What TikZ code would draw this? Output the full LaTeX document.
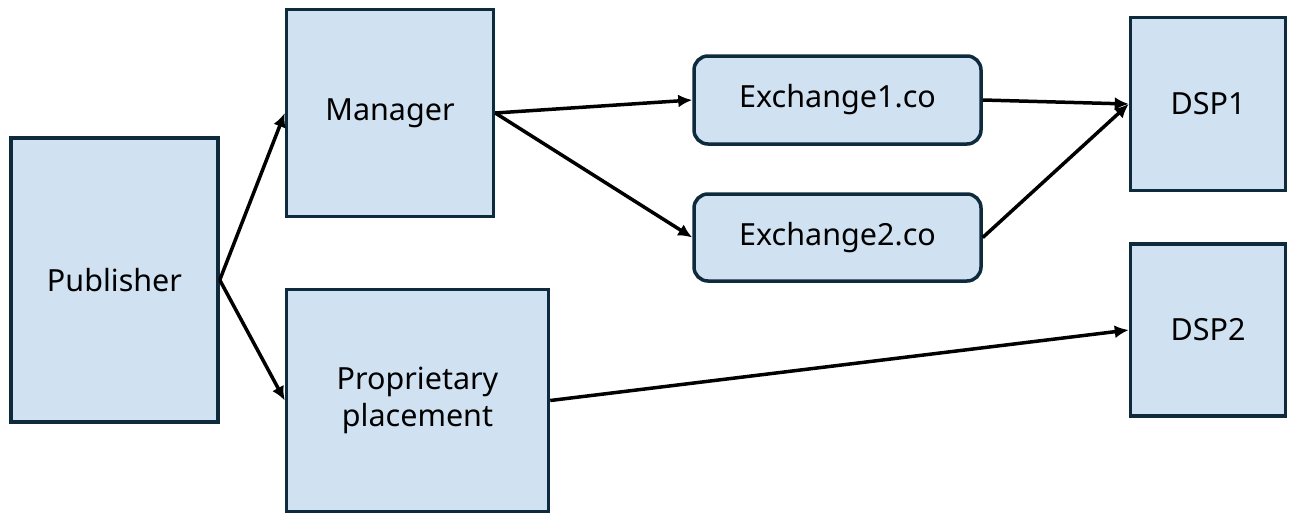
\documentclass[tikz,border=0pt]{standalone}
\usepackage{fontspec}
\setmainfont{Noto Sans}
\usetikzlibrary{arrows.meta}
\definecolor{boxfill}{HTML}{D0E1F1}
\definecolor{boxline}{HTML}{0E2A3D}
\tikzset{
  box/.style={draw=boxline, fill=boxfill, line width=3.5pt, inner sep=0pt,
    align=center, font=\fontsize{30.5}{37}\selectfont, text=black},
  rbox/.style={box, rounded corners=14pt},
  conn/.style={line width=3.5pt, draw=black, -{Latex[length=14pt,width=13pt]}}
}
\begin{document}
\begin{tikzpicture}[x=1pt, y=-1pt]
\useasboundingbox (0,0) rectangle (1289,514);
\node[box, minimum width=207pt, minimum height=284pt] (pub) at (114.5,280) {Publisher};
\node[box, minimum width=207pt, minimum height=207pt] (man) at (390,113) {Manager};
\node[box, minimum width=262pt, minimum height=222pt] (prop) at (417.5,400.5) {Proprietary\\placement};
\node[rbox, minimum width=287pt, minimum height=88pt] (ex1) at (837.5,100) {Exchange1.co};
\node[rbox, minimum width=287pt, minimum height=87pt] (ex2) at (837.5,237.5) {Exchange2.co};
\node[box, minimum width=155pt, minimum height=173pt] (dsp1) at (1208,104) {DSP1};
\node[box, minimum width=155pt, minimum height=172pt] (dsp2) at (1208,330) {DSP2};
\draw[conn] (pub.east) -- (man.west);
\draw[conn] (pub.east) -- (prop.west);
\draw[conn] (man.east) -- (ex1.west);
\draw[conn] (man.east) -- (ex2.west);
\draw[conn] (ex1.east) -- (dsp1.west);
\draw[conn] (ex2.east) -- (dsp1.west);
\draw[conn] (prop.east) -- (dsp2.west);
\end{tikzpicture}
\end{document}
